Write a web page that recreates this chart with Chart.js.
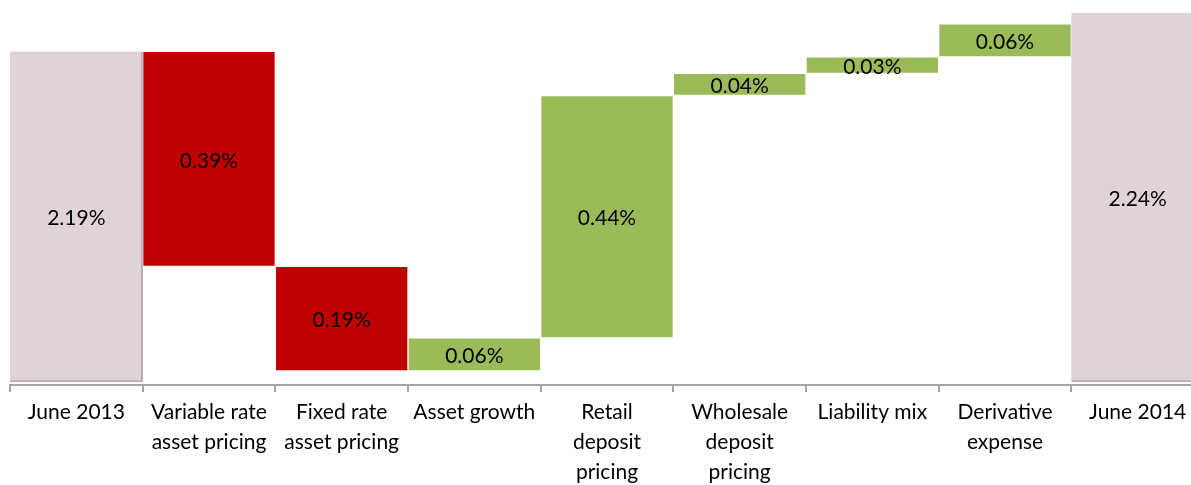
<!DOCTYPE html>
<html>
<head>
<meta charset="utf-8">
<script src="https://cdn.jsdelivr.net/npm/chart.js@4"></script>
<style>
  html, body { margin: 0; padding: 0; background: #fff; overflow: hidden; }
  #wrap { width: 1204px; height: 485px; position: relative; }
</style>
</head>
<body>
<div id="wrap"><canvas id="waterfallChart"></canvas></div>
<script>
// Категории (подписи оси X)
const categories = [
    ['June 2013'],
    ['Variable rate', 'asset pricing'],
    ['Fixed rate', 'asset pricing'],
    ['Asset growth'],
    ['Retail', 'deposit', 'pricing'],
    ['Wholesale', 'deposit', 'pricing'],
    ['Liability mix'],
    ['Derivative', 'expense'],
    ['June 2014']
];

// Начало и конец каждого столбца (в %)
const barStart = [1.59, 2.19, 1.80, 1.61, 1.67, 2.11, 2.15, 2.18, 1.59];
const barEnd   = [2.19, 1.80, 1.61, 1.67, 2.11, 2.15, 2.18, 2.24, 2.26];

// Подписи значений внутри столбцов
const valueLabels = ['2.19%', '0.39%', '0.19%', '0.06%', '0.44%', '0.04%', '0.03%', '0.06%', '2.24%'];

// Тип столбца: итог / снижение / рост
const barKinds = ['total', 'down', 'down', 'up', 'up', 'up', 'up', 'up', 'total'];

const kindColors = { total: '#E0D3D7', down: '#C00000', up: '#9BBB59' };

const fontFamily = 'Lato, "Open Sans", sans-serif';

// Подписи значений по центру столбца
const valueLabelPlugin = {
    id: 'valueLabels',
    afterDatasetsDraw(chart) {
        const ctx = chart.ctx;
        const meta = chart.getDatasetMeta(0);
        ctx.save();
        ctx.fillStyle = '#000';
        ctx.font = '21px ' + fontFamily;
        ctx.textAlign = 'center';
        ctx.textBaseline = 'middle';
        meta.data.forEach((bar, i) => {
            const y = (bar.y + bar.base) / 2 + 2;
            ctx.fillText(valueLabels[i], bar.x, y);
        });
        ctx.restore();
    }
};

const ctx = document.getElementById('waterfallChart').getContext('2d');
new Chart(ctx, {
    type: 'bar',
    data: {
        labels: categories,
        datasets: [{
            data: barStart.map((s, i) => [s, barEnd[i]]),
            backgroundColor: barKinds.map(k => kindColors[k]),
            borderColor: barKinds.map(k => k === 'total' ? '#B8ADB0' : 'rgba(255,255,255,0.6)'),
            borderWidth: barKinds.map(k => k === 'total' ? { top: 0, left: 0, right: 2, bottom: 2 } : 1),
            borderSkipped: false,
            barPercentage: 1,
            categoryPercentage: 1
        }]
    },
    options: {
        responsive: true,
        maintainAspectRatio: false,
        animation: false,
        layout: { padding: { left: 10, right: 0, top: 0, bottom: 0 } },
        plugins: {
            legend: { display: false },
            tooltip: { enabled: false }
        },
        scales: {
            x: {
                afterFit: (scale) => { scale.height = 100; },
                grid: {
                    display: true,
                    drawOnChartArea: false,
                    tickLength: 7,
                    color: '#A6A6A6',
                    lineWidth: 2
                },
                border: { display: true, color: '#A6A6A6', width: 2 },
                ticks: {
                    color: '#000',
                    padding: 5,
                    maxRotation: 0,
                    autoSkip: false,
                    font: { family: fontFamily, size: 21, lineHeight: 1.43 }
                }
            },
            y: {
                display: false,
                min: 1.5846,
                max: 2.2833
            }
        }
    },
    plugins: [valueLabelPlugin]
});
</script>
</body>
</html>
